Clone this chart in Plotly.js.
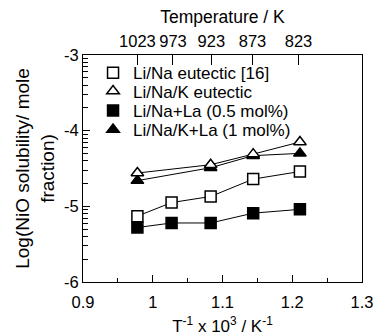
<!DOCTYPE html>
<html>
<head>
<meta charset="utf-8">
<script src="https://cdn.plot.ly/plotly-3.0.1.min.js"></script>
<style>html,body{margin:0;padding:0;background:#fff;}#chart{width:377px;height:336px;}</style>
</head>
<body>
<div id="chart"></div>
<script>
// Data
var invT5 = [0.978, 1.027, 1.083, 1.144, 1.211];     // T^-1 x 10^3 for 1023, 973, 923, 873, 823 K
var invT4 = [0.978, 1.083, 1.144, 1.211];            // 1023, 923, 873, 823 K
var liNaEutectic = [-5.13, -4.95, -4.87, -4.64, -4.54];
var liNaKEutectic = [-4.56, -4.45, -4.31, -4.15];
var liNaLa = [-5.28, -5.22, -5.22, -5.09, -5.04];
var liNaKLa = [-4.66, -4.49, -4.33, -4.30];
var seriesNames = ['Li/Na eutectic [16]', 'Li/Na/K eutectic', 'Li/Na+La (0.5 mol%)', 'Li/Na/K+La (1 mol%)'];
var topTickVals = [0.978, 1.029, 1.084, 1.143, 1.209];
var topTickText = ['1023', '973', '923', '873', '823'];
var yTickVals = [-6, -5, -4, -3];
var yTickText = ['-6', '-5', '-4', '-3'];

var FONT = 'Liberation Sans, Arial, Helvetica, sans-serif';

// minor log-style ticks inside each decade
var yMinor = [];
[-6, -5, -4].forEach(function (d) {
  for (var k = 2; k <= 9; k++) yMinor.push(d + Math.log10(k));
});

function lineTrace(x, y) {
  return {x: x, y: y, mode: 'lines', type: 'scatter', showlegend: false, hoverinfo: 'skip',
          line: {color: 'black', width: 1}};
}
function markerTrace(x, y, name, symbol, fill, size, legendId) {
  return {x: x, y: y, mode: 'markers', type: 'scatter', name: name, legend: legendId,
          marker: {symbol: symbol, size: size, color: fill, line: {color: 'black', width: 1.5}}};
}

var data = [
  lineTrace(invT5, liNaEutectic),
  lineTrace(invT4, liNaKEutectic),
  lineTrace(invT5, liNaLa),
  lineTrace(invT4, liNaKLa),
  markerTrace(invT4, liNaKLa, seriesNames[3], 'triangle-up', 'black', 11, 'legend4'),
  markerTrace(invT5, liNaLa, seriesNames[2], 'square', 'black', 11, 'legend3'),
  markerTrace(invT5, liNaEutectic, seriesNames[0], 'square', 'white', 11, 'legend'),
  markerTrace(invT4, liNaKEutectic, seriesNames[1], 'triangle-up', 'white', 11, 'legend2'),
  // invisible trace to activate top axis
  {x: [0.9, 1.3], y: [-6, -6], xaxis: 'x2', yaxis: 'y', mode: 'markers', showlegend: false,
   hoverinfo: 'skip', marker: {opacity: 0}}
];

function leg(y) {
  return {x: 0.036, xanchor: 'left', y: y, yanchor: 'middle', bgcolor: 'rgba(0,0,0,0)',
          borderwidth: 0, font: {family: FONT, size: 17, color: 'black'}, itemwidth: 30};
}

var layout = {
  width: 377, height: 336,
  margin: {l: 83, r: 15, t: 55, b: 54, pad: 0},
  paper_bgcolor: 'white', plot_bgcolor: 'white',
  font: {family: FONT, size: 16, color: 'black'},
  showlegend: true,
  legend: leg(0.92),
  legend2: leg(0.839),
  legend3: leg(0.754),
  legend4: leg(0.67),
  xaxis: {
    range: [0.9, 1.3], tickmode: 'array', tickvals: [0.9, 1.0, 1.1, 1.2, 1.3],
    ticktext: ['0.9', '1', '1.1', '1.2', '1.3'],
    ticks: 'inside', ticklen: 7, tickcolor: 'black', tickwidth: 1,
    minor: {tickmode: 'array', tickvals: [0.95, 1.05, 1.15, 1.25], ticks: 'inside', ticklen: 4, tickcolor: 'black'},
    showline: true, linecolor: 'black', linewidth: 1, mirror: false,
    showgrid: false, zeroline: false, ticklabelstandoff: 5,
    tickfont: {family: FONT, size: 16.5},
    title: {text: 'T<sup>-1</sup> x 10<sup>3</sup> / K<sup>-1</sup>', font: {family: FONT, size: 17}, standoff: 16}
  },
  xaxis2: {
    overlaying: 'x', side: 'top', anchor: 'y',
    range: [0.9, 1.3], tickmode: 'array', tickvals: topTickVals, ticktext: topTickText,
    ticks: 'inside', ticklen: 10, tickcolor: 'black',
    showline: true, linecolor: 'black', linewidth: 1,
    showgrid: false, zeroline: false,
    tickfont: {family: FONT, size: 16.5},
    title: {text: 'Temperature / K', font: {family: FONT, size: 17.5}, standoff: 4}
  },
  yaxis: {
    range: [-6, -3], tickmode: 'array', tickvals: yTickVals, ticktext: yTickText,
    ticks: 'inside', ticklen: 7, tickcolor: 'black',
    minor: {tickmode: 'array', tickvals: yMinor, ticks: 'inside', ticklen: 5, tickcolor: 'black'},
    showline: true, linecolor: 'black', linewidth: 1, mirror: true,
    showgrid: false, zeroline: false,
    tickfont: {family: FONT, size: 16.5},
    title: {text: 'Log(NiO solubility/ mole<br>fraction)', font: {family: FONT, size: 19}, standoff: 4}
  }
};

Plotly.newPlot('chart', data, layout, {staticPlot: true, displayModeBar: false});
</script>
</body>
</html>
